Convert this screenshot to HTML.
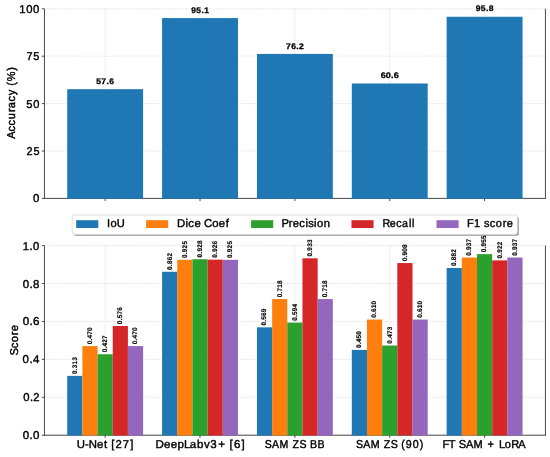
<!DOCTYPE html>
<html><head><meta charset="utf-8"><title>Accuracy and Score comparison</title><style>
html,body{margin:0;padding:0;background:#fff;}
body{width:550px;height:457px;overflow:hidden;}
svg{display:block;will-change:transform;}
text{font-family:"Liberation Sans",sans-serif;fill:#000;text-rendering:geometricPrecision;}
.g{stroke:#e0e0e0;stroke-width:0.8;stroke-dasharray:1.7 0.9;}
.sp{stroke:#4a4a4a;stroke-width:1;}
.tk{stroke:#4a4a4a;stroke-width:1;}
.tl,.yl,.lg{stroke:#000;stroke-width:0.4px;}
.vb{font-weight:bold;stroke:#000;stroke-width:0.28px;}
.vs{font-weight:bold;stroke:#000;stroke-width:0.15px;}
</style></head><body>
<svg width="550" height="457" viewBox="0 0 550 457">
<rect width="550" height="457" fill="#fff"/>
<line x1="44.45" x2="545.31" y1="198.40" y2="198.40" class="g"/>
<line x1="44.45" x2="545.31" y1="151.00" y2="151.00" class="g"/>
<line x1="44.45" x2="545.31" y1="103.60" y2="103.60" class="g"/>
<line x1="44.45" x2="545.31" y1="56.20" y2="56.20" class="g"/>
<line x1="44.45" x2="545.31" y1="8.80" y2="8.80" class="g"/>
<line x1="105.16" x2="105.16" y1="8.80" y2="198.4" class="g"/>
<line x1="200.02" x2="200.02" y1="8.80" y2="198.4" class="g"/>
<line x1="294.88" x2="294.88" y1="8.80" y2="198.4" class="g"/>
<line x1="389.74" x2="389.74" y1="8.80" y2="198.4" class="g"/>
<line x1="484.60" x2="484.60" y1="8.80" y2="198.4" class="g"/>
<line x1="44.45" x2="44.45" y1="8.80" y2="198.9" class="sp"/>
<line x1="545.45" x2="545.45" y1="8.80" y2="198.9" class="sp"/>
<line x1="43.95" x2="545.81" y1="198.4" y2="198.4" class="sp"/>
<rect x="67.22" y="89.19" width="75.89" height="109.61" fill="#1f77b4"/>
<rect x="162.08" y="18.09" width="75.89" height="180.71" fill="#1f77b4"/>
<rect x="256.94" y="53.92" width="75.89" height="144.88" fill="#1f77b4"/>
<rect x="351.80" y="83.50" width="75.89" height="115.30" fill="#1f77b4"/>
<rect x="446.66" y="16.76" width="75.89" height="182.04" fill="#1f77b4"/>
<text x="91.04 95.85 100.80 103.46" y="83.89" class="vb" style="font-size:8.14px" transform="scale(1.0561,1)">57.6</text>
<text x="183.93 188.94 193.89 196.60" y="12.79" class="vb" style="font-size:8.14px" transform="scale(1.0392,1)">95.1</text>
<text x="270.35 275.29 280.16 282.79" y="48.62" class="vb" style="font-size:8.14px" transform="scale(1.0577,1)">76.2</text>
<text x="342.45 347.06 351.77 354.24" y="78.20" class="vb" style="font-size:8.14px" transform="scale(1.1116,1)">60.6</text>
<text x="450.76 455.69 460.58 463.21" y="11.46" class="vb" style="font-size:8.14px" transform="scale(1.0552,1)">95.8</text>
<line x1="41.85" x2="44.45" y1="198.40" y2="198.40" class="tk"/>
<text x="32.82" y="202.40" class="tl" style="font-size:11.39px" transform="scale(1.0072,1)">0</text>
<line x1="41.85" x2="44.45" y1="151.00" y2="151.00" class="tk"/>
<text x="27.57 34.89" y="155.00" class="tl" style="font-size:11.39px" transform="scale(0.9575,1)">25</text>
<line x1="41.85" x2="44.45" y1="103.60" y2="103.60" class="tk"/>
<text x="26.83 33.92" y="107.60" class="tl" style="font-size:11.39px" transform="scale(0.9774,1)">50</text>
<line x1="41.85" x2="44.45" y1="56.20" y2="56.20" class="tk"/>
<text x="27.45 34.59" y="60.20" class="tl" style="font-size:11.39px" transform="scale(0.9652,1)">75</text>
<line x1="41.85" x2="44.45" y1="8.80" y2="8.80" class="tk"/>
<text x="19.43 26.42 33.38" y="12.80" class="tl" style="font-size:11.39px" transform="scale(0.9918,1)">100</text>
<line x1="105.16" x2="105.16" y1="198.4" y2="201.0" class="tk"/>
<line x1="200.02" x2="200.02" y1="198.4" y2="201.0" class="tk"/>
<line x1="294.88" x2="294.88" y1="198.4" y2="201.0" class="tk"/>
<line x1="389.74" x2="389.74" y1="198.4" y2="201.0" class="tk"/>
<line x1="484.60" x2="484.60" y1="198.4" y2="201.0" class="tk"/>
<text x="-144.20 -136.60 -130.40 -123.95 -116.55 -112.66 -105.50 -98.93 -92.75 -89.15 -84.47 -73.46" y="0" class="yl" style="font-size:11.39px" transform="translate(14.85,0) rotate(-90) scale(0.9619,1)">Accuracy (%)</text>
<line x1="44.45" x2="545.31" y1="435.20" y2="435.20" class="g"/>
<line x1="44.45" x2="545.31" y1="397.28" y2="397.28" class="g"/>
<line x1="44.45" x2="545.31" y1="359.36" y2="359.36" class="g"/>
<line x1="44.45" x2="545.31" y1="321.44" y2="321.44" class="g"/>
<line x1="44.45" x2="545.31" y1="283.52" y2="283.52" class="g"/>
<line x1="44.45" x2="545.31" y1="245.60" y2="245.60" class="g"/>
<line x1="105.16" x2="105.16" y1="245.60" y2="435.2" class="g"/>
<line x1="200.02" x2="200.02" y1="245.60" y2="435.2" class="g"/>
<line x1="294.88" x2="294.88" y1="245.60" y2="435.2" class="g"/>
<line x1="389.74" x2="389.74" y1="245.60" y2="435.2" class="g"/>
<line x1="484.60" x2="484.60" y1="245.60" y2="435.2" class="g"/>
<line x1="44.45" x2="44.45" y1="245.60" y2="435.7" class="sp"/>
<line x1="545.45" x2="545.45" y1="245.60" y2="435.7" class="sp"/>
<line x1="43.95" x2="545.81" y1="435.2" y2="435.2" class="sp"/>
<rect x="67.22" y="375.86" width="15.18" height="59.64" fill="#1f77b4"/>
<rect x="82.39" y="346.09" width="15.18" height="89.41" fill="#ff7f0e"/>
<rect x="97.57" y="354.24" width="15.18" height="81.26" fill="#2ca02c"/>
<rect x="112.75" y="325.99" width="15.18" height="109.51" fill="#d62728"/>
<rect x="127.93" y="346.09" width="15.18" height="89.41" fill="#9467bd"/>
<rect x="162.08" y="271.76" width="15.18" height="163.74" fill="#1f77b4"/>
<rect x="177.25" y="259.82" width="15.18" height="175.68" fill="#ff7f0e"/>
<rect x="192.43" y="259.25" width="15.18" height="176.25" fill="#2ca02c"/>
<rect x="207.61" y="259.63" width="15.18" height="175.87" fill="#d62728"/>
<rect x="222.79" y="259.82" width="15.18" height="175.68" fill="#9467bd"/>
<rect x="256.94" y="327.32" width="15.18" height="108.18" fill="#1f77b4"/>
<rect x="272.11" y="299.07" width="15.18" height="136.43" fill="#ff7f0e"/>
<rect x="287.29" y="322.58" width="15.18" height="112.92" fill="#2ca02c"/>
<rect x="302.47" y="258.30" width="15.18" height="177.20" fill="#d62728"/>
<rect x="317.65" y="299.07" width="15.18" height="136.43" fill="#9467bd"/>
<rect x="351.80" y="349.88" width="15.18" height="85.62" fill="#1f77b4"/>
<rect x="366.97" y="319.54" width="15.18" height="115.96" fill="#ff7f0e"/>
<rect x="382.15" y="345.52" width="15.18" height="89.98" fill="#2ca02c"/>
<rect x="397.33" y="263.04" width="15.18" height="172.46" fill="#d62728"/>
<rect x="412.51" y="319.54" width="15.18" height="115.96" fill="#9467bd"/>
<rect x="446.66" y="267.97" width="15.18" height="167.53" fill="#1f77b4"/>
<rect x="461.83" y="257.54" width="15.18" height="177.96" fill="#ff7f0e"/>
<rect x="477.01" y="254.13" width="15.18" height="181.37" fill="#2ca02c"/>
<rect x="492.19" y="260.39" width="15.18" height="175.11" fill="#d62728"/>
<rect x="507.37" y="257.54" width="15.18" height="177.96" fill="#9467bd"/>
<text x="-407.18 -403.07 -400.85 -396.75 -392.66" y="0" class="vs" style="font-size:6.75px" transform="translate(76.69,0) rotate(-90) scale(0.9184,1)">0.313</text>
<text x="-357.13 -353.18 -351.14 -347.24 -343.31" y="0" class="vs" style="font-size:6.75px" transform="translate(91.86,0) rotate(-90) scale(0.9640,1)">0.470</text>
<text x="-376.84 -372.79 -370.66 -366.61 -362.63" y="0" class="vs" style="font-size:6.75px" transform="translate(107.04,0) rotate(-90) scale(0.9351,1)">0.427</text>
<text x="-341.92 -337.92 -335.78 -331.87 -327.85" y="0" class="vs" style="font-size:6.75px" transform="translate(122.22,0) rotate(-90) scale(0.9480,1)">0.576</text>
<text x="-357.13 -353.18 -351.14 -347.24 -343.31" y="0" class="vs" style="font-size:6.75px" transform="translate(137.40,0) rotate(-90) scale(0.9640,1)">0.470</text>
<text x="-284.26 -280.26 -278.15 -274.16 -270.22" y="0" class="vs" style="font-size:6.75px" transform="translate(171.55,0) rotate(-90) scale(0.9496,1)">0.862</text>
<text x="-275.71 -271.67 -269.54 -265.49 -261.46" y="0" class="vs" style="font-size:6.75px" transform="translate(186.72,0) rotate(-90) scale(0.9356,1)">0.925</text>
<text x="-271.40 -267.40 -265.31 -261.31 -257.36" y="0" class="vs" style="font-size:6.75px" transform="translate(201.90,0) rotate(-90) scale(0.9484,1)">0.928</text>
<text x="-269.96 -265.98 -263.90 -259.94 -255.99" y="0" class="vs" style="font-size:6.75px" transform="translate(217.08,0) rotate(-90) scale(0.9550,1)">0.926</text>
<text x="-275.71 -271.67 -269.54 -265.49 -261.46" y="0" class="vs" style="font-size:6.75px" transform="translate(232.26,0) rotate(-90) scale(0.9356,1)">0.925</text>
<text x="-341.30 -337.31 -335.20 -331.25 -327.36" y="0" class="vs" style="font-size:6.75px" transform="translate(266.41,0) rotate(-90) scale(0.9537,1)">0.569</text>
<text x="-314.92 -310.91 -308.81 -304.78 -300.82" y="0" class="vs" style="font-size:6.75px" transform="translate(281.58,0) rotate(-90) scale(0.9438,1)">0.718</text>
<text x="-341.34 -337.31 -335.15 -331.19 -327.20" y="0" class="vs" style="font-size:6.75px" transform="translate(296.76,0) rotate(-90) scale(0.9396,1)">0.594</text>
<text x="-274.42 -270.38 -268.24 -264.18 -260.16" y="0" class="vs" style="font-size:6.75px" transform="translate(311.94,0) rotate(-90) scale(0.9344,1)">0.933</text>
<text x="-314.92 -310.91 -308.81 -304.78 -300.82" y="0" class="vs" style="font-size:6.75px" transform="translate(327.12,0) rotate(-90) scale(0.9438,1)">0.718</text>
<text x="-365.77 -361.78 -359.70 -355.71 -351.77" y="0" class="vs" style="font-size:6.75px" transform="translate(361.27,0) rotate(-90) scale(0.9515,1)">0.450</text>
<text x="-328.03 -324.09 -322.01 -318.15 -314.27" y="0" class="vs" style="font-size:6.75px" transform="translate(376.44,0) rotate(-90) scale(0.9686,1)">0.610</text>
<text x="-367.95 -363.90 -361.76 -357.74 -353.68" y="0" class="vs" style="font-size:6.75px" transform="translate(391.62,0) rotate(-90) scale(0.9340,1)">0.473</text>
<text x="-267.19 -263.28 -261.28 -257.41 -253.57" y="0" class="vs" style="font-size:6.75px" transform="translate(406.80,0) rotate(-90) scale(0.9778,1)">0.908</text>
<text x="-328.03 -324.09 -322.01 -318.15 -314.27" y="0" class="vs" style="font-size:6.75px" transform="translate(421.98,0) rotate(-90) scale(0.9686,1)">0.610</text>
<text x="-282.18 -278.16 -276.03 -272.04 -268.05" y="0" class="vs" style="font-size:6.75px" transform="translate(456.13,0) rotate(-90) scale(0.9431,1)">0.882</text>
<text x="-270.05 -266.04 -263.94 -259.94 -256.01" y="0" class="vs" style="font-size:6.75px" transform="translate(471.30,0) rotate(-90) scale(0.9469,1)">0.937</text>
<text x="-269.96 -265.91 -263.77 -259.71 -255.69" y="0" class="vs" style="font-size:6.75px" transform="translate(486.48,0) rotate(-90) scale(0.9344,1)">0.955</text>
<text x="-275.99 -271.95 -269.81 -265.77 -261.76" y="0" class="vs" style="font-size:6.75px" transform="translate(501.66,0) rotate(-90) scale(0.9367,1)">0.922</text>
<text x="-270.05 -266.04 -263.94 -259.94 -256.01" y="0" class="vs" style="font-size:6.75px" transform="translate(516.84,0) rotate(-90) scale(0.9469,1)">0.937</text>
<line x1="41.85" x2="44.45" y1="435.20" y2="435.20" class="tk"/>
<text x="22.50 29.21 32.76" y="439.20" class="tl" style="font-size:11.39px" transform="scale(1.0091,1)">0.0</text>
<line x1="41.85" x2="44.45" y1="397.28" y2="397.28" class="tk"/>
<text x="23.33 30.13 33.63" y="401.28" class="tl" style="font-size:11.39px" transform="scale(0.9918,1)">0.2</text>
<line x1="41.85" x2="44.45" y1="359.36" y2="359.36" class="tk"/>
<text x="22.49 29.22 32.80" y="363.36" class="tl" style="font-size:11.39px" transform="scale(1.0054,1)">0.4</text>
<line x1="41.85" x2="44.45" y1="321.44" y2="321.44" class="tk"/>
<text x="22.16 28.82 32.31" y="325.44" class="tl" style="font-size:11.39px" transform="scale(1.0214,1)">0.6</text>
<line x1="41.85" x2="44.45" y1="283.52" y2="283.52" class="tk"/>
<text x="22.46 29.16 32.70" y="287.52" class="tl" style="font-size:11.39px" transform="scale(1.0118,1)">0.8</text>
<line x1="41.85" x2="44.45" y1="245.60" y2="245.60" class="tk"/>
<text x="23.02 29.87 33.53" y="249.60" class="tl" style="font-size:11.39px" transform="scale(0.9879,1)">1.0</text>
<line x1="105.16" x2="105.16" y1="435.2" y2="437.8" class="tk"/>
<text x="76.74 84.90 88.68 97.05 104.06 107.80 111.35 115.62 122.65 130.26" y="447.50" class="tl" style="font-size:11.39px">U-Net [27]</text>
<line x1="200.02" x2="200.02" y1="435.2" y2="437.8" class="tk"/>
<text x="152.84 161.20 167.76 174.46 180.98 186.61 193.71 200.52 206.75 214.45 222.25 225.70 230.02 237.51" y="447.50" class="tl" style="font-size:11.39px" transform="scale(1.0172,1)">DeepLabv3+ [6]</text>
<line x1="294.88" x2="294.88" y1="435.2" y2="437.8" class="tk"/>
<text x="284.74 292.57 300.66 310.44 314.66 322.12 329.56 333.45 341.46" y="447.50" class="tl" style="font-size:11.39px" transform="scale(0.9297,1)">SAM ZS BB</text>
<line x1="389.74" x2="389.74" y1="435.2" y2="437.8" class="tk"/>
<text x="380.07 387.84 395.87 405.61 409.78 417.18 424.59 428.35 433.25 440.67 448.18" y="447.50" class="tl" style="font-size:11.39px" transform="scale(0.9365,1)">SAM ZS (90)</text>
<line x1="484.60" x2="484.60" y1="435.2" y2="437.8" class="tk"/>
<text x="456.69 463.17 470.05 473.43 480.94 488.67 498.25 503.16 511.19 514.94 521.04 527.60 534.99" y="447.50" class="tl" style="font-size:11.39px" transform="scale(0.9689,1)">FT SAM + LoRA</text>
<text x="-360.16 -352.90 -346.71 -339.62 -335.66" y="0" class="yl" style="font-size:11.39px" transform="translate(18.00,0) rotate(-90) scale(0.9871,1)">Score</text>
<rect x="73.60000000000001" y="216.4" width="445.2" height="19.400000000000006" rx="2.5" ry="2.5" fill="#000" fill-opacity="0.42"/>
<rect x="72.2" y="215.0" width="445.2" height="19.400000000000006" rx="2.5" ry="2.5" fill="#fff" stroke="#d6d6d6" stroke-width="0.8"/>
<rect x="76.2" y="220.2" width="22.1" height="7.8" fill="#1f77b4"/>
<text x="109.75 113.20 119.73" y="227.40" class="lg" style="font-size:11.39px" transform="scale(0.9755,1)">IoU</text>
<rect x="146.1" y="220.2" width="22.1" height="7.8" fill="#ff7f0e"/>
<text x="177.02 185.56 188.33 194.48 200.97 204.04 212.14 218.82 225.76" y="227.40" class="lg" style="font-size:11.39px">Dice Coef</text>
<rect x="251.1" y="220.2" width="22.1" height="7.8" fill="#2ca02c"/>
<text x="286.49 293.81 297.78 304.39 310.67 313.57 319.49 322.49 329.39" y="227.40" class="lg" style="font-size:11.39px" transform="scale(0.9830,1)">Precision</text>
<rect x="351.5" y="220.2" width="22.1" height="7.8" fill="#d62728"/>
<text x="407.11 414.93 421.83 427.94 435.41 438.62" y="227.40" class="lg" style="font-size:11.39px" transform="scale(0.9393,1)">Recall</text>
<rect x="436.5" y="220.2" width="22.1" height="7.8" fill="#9467bd"/>
<text x="481.50 488.55 495.32 499.02 504.81 511.11 518.31 522.35" y="227.40" class="lg" style="font-size:11.39px" transform="scale(0.9700,1)">F1 score</text>
</svg>
</body></html>
